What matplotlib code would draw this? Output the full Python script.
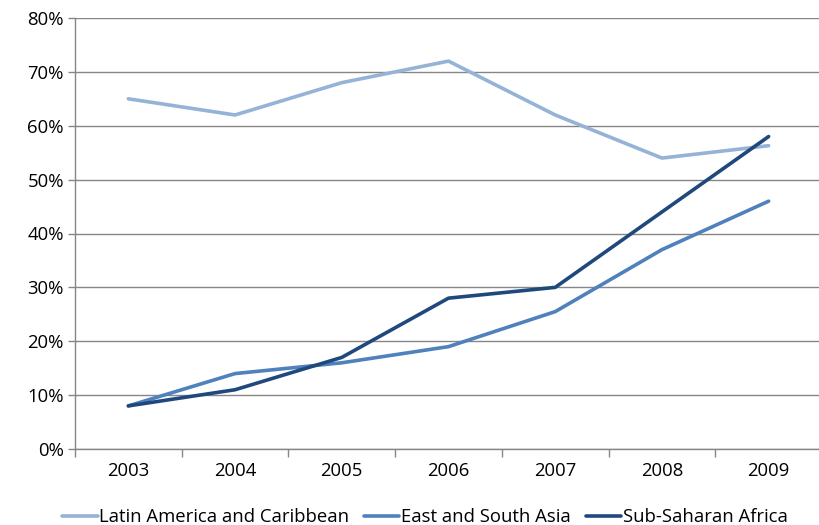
import matplotlib
matplotlib.use('Agg')
import matplotlib.pyplot as plt
from matplotlib.ticker import FixedLocator, PercentFormatter

years = ['2003', '2004', '2005', '2006', '2007', '2008', '2009']
latin_america = [65, 62, 68, 72, 62, 54, 56.3]
east_south_asia = [8, 14, 16, 19, 25.5, 37, 46]
sub_saharan = [8, 11, 17, 28, 30, 44, 58]

series = [
    ('Latin America and Caribbean', latin_america, '#95b3d7'),
    ('East and South Asia', east_south_asia, '#4f81bd'),
    ('Sub-Saharan Africa', sub_saharan, '#1f497d'),
]

plt.rcParams['font.family'] = ['Open Sans', 'DejaVu Sans']
grey = '#868686'
fs = 13.3

fig = plt.figure(figsize=(8.2, 5.25), dpi=100)
ax = fig.add_axes([75 / 820, 76 / 525, 747 / 820, 431 / 525])

x = list(range(len(years)))
for name, vals, color in series:
    ax.plot(x, vals, color=color, lw=2.6, label=name, solid_capstyle='round')

ax.set_xlim(-0.5, len(years) - 0.5)
ax.set_ylim(0, 80)
ax.set_yticks(range(0, 81, 10))
ax.yaxis.set_major_formatter(PercentFormatter(decimals=0))
ax.yaxis.grid(True, color=grey, lw=1)
ax.set_axisbelow(True)

ax.set_xticks(x)
ax.set_xticklabels(years)
ax.xaxis.set_minor_locator(FixedLocator([i - 0.5 for i in range(len(years) + 1)]))
ax.tick_params(axis='x', which='major', length=0, pad=9, labelsize=fs)
ax.tick_params(axis='x', which='minor', length=6, color=grey, width=1)
ax.tick_params(axis='y', length=5, color=grey, width=1, labelsize=fs, pad=3)

for s in ['top', 'right']:
    ax.spines[s].set_visible(False)
for s in ['left', 'bottom']:
    ax.spines[s].set_color(grey)
    ax.spines[s].set_linewidth(1)

ax.legend(loc='lower center', bbox_to_anchor=(425 / 820, -0.02), bbox_transform=fig.transFigure,
          ncol=3, frameon=False, fontsize=fs, handlelength=1.9, handletextpad=0.1,
          columnspacing=0.8, borderaxespad=0.1)

fig.savefig('out.png', dpi=100)
